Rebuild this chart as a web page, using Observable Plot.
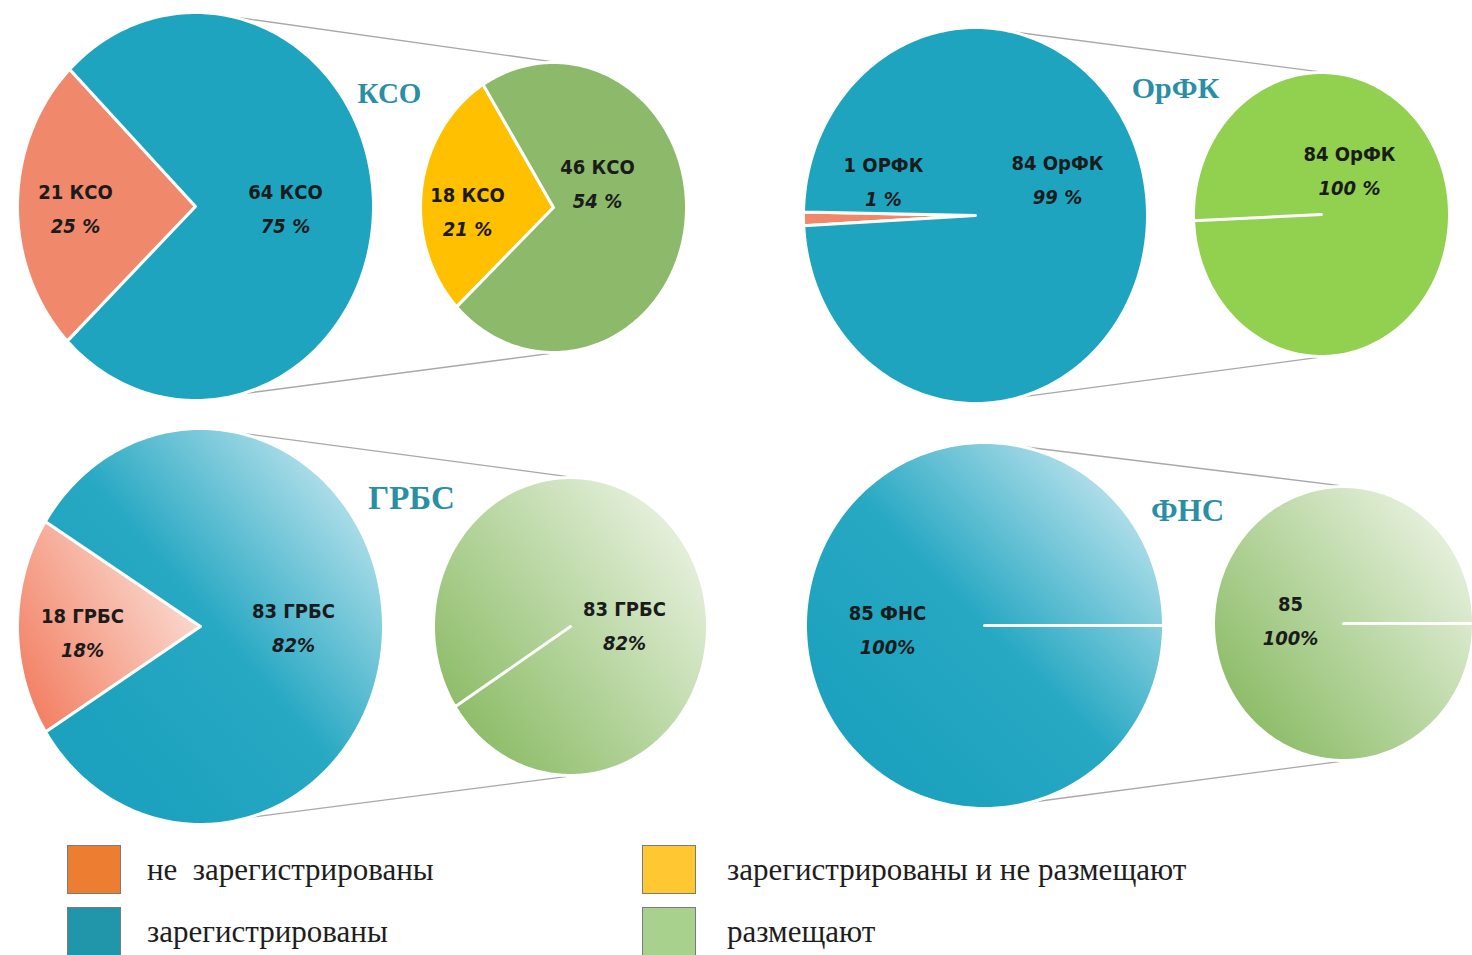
<!DOCTYPE html>
<html><head><meta charset="utf-8">
<script src="https://cdn.jsdelivr.net/npm/d3@7"></script>
<script src="https://cdn.jsdelivr.net/npm/@observablehq/plot@0.6"></script>
<style>
html,body{margin:0;padding:0;background:#fff;overflow:hidden;}
#wrap{width:1472px;height:955px;position:relative;}
#legend{position:relative;width:1472px;height:115px;font-family:"Liberation Serif","Times New Roman",serif;font-size:31px;color:#1e1e1e;}
.sw{position:absolute;width:54px;height:49px;border:1px solid #7a7a7a;box-sizing:border-box;}
.lt{position:absolute;line-height:1;white-space:pre;}
</style></head>
<body><div id="wrap"><div id="chart"></div><div id="legend"></div></div>
<script>
// ---- data ----
const groups = ["КСО", "ОрФК", "ГРБС", "ФНС"];
const notRegistered = [21, 1, 18, 0];
const registered = [64, 84, 83, 85];
const notPosting = [18, 0, 0, 0];
const posting = [46, 84, 83, 85];
const notRegLabel = ["21 КСО", "1 ОРФК", "18 ГРБС", ""];
const notRegPct = ["25 %", "1 %", "18%", ""];
const regLabel = ["64 КСО", "84 ОрФК", "83 ГРБС", "85 ФНС"];
const regPct = ["75 %", "99 %", "82%", "100%"];
const notPostLabel = ["18 КСО", "", "", ""];
const notPostPct = ["21 %", "", "", ""];
const postLabel = ["46 КСО", "84 ОрФК", "83 ГРБС", "85"];
const postPct = ["54 %", "100 %", "82%", "100%"];
const legendLabels = ["не  зарегистрированы", "зарегистрированы", "зарегистрированы и не размещают", "размещают"];
const legendColors = ["#ED7D31", "#2196AB", "#FFC832", "#A9D18E"];

// ---- layout (positions / styles) ----
const W = 1472, H = 840;
const layout = [
  { big:{cx:195,cy:206,rx:178,ry:194,start:135}, small:{cx:553,cy:207,rx:133,ry:145,start:122},
    title:{x:389,y:93,size:29},
    fills:{notReg:"#F0886B", reg:"#1FA4C0", notPost:"#FFC000", post:"#8DBA6A"},
    lab:{notReg:[-120,-14], reg:[90,-14], notPost:[-86,-12], post:[44,-40]} },
  { big:{cx:975,cy:215,rx:172,ry:188,start:178.9}, small:{cx:1321,cy:214,rx:128,ry:142,start:182.5},
    title:{x:1175,y:88,size:30},
    fills:{notReg:"#F0886B", reg:"#1FA4C0", notPost:"#FFC000", post:"#92D050"},
    lab:{notReg:[-92,-50], reg:[82,-52], notPost:[0,0], post:[28,-60]} },
  { big:{cx:200,cy:626,rx:183,ry:198,start:148}, small:{cx:570,cy:626,rx:137,ry:149,start:212.6},
    title:{x:411,y:498,size:33},
    fills:{notReg:"url(#gSalmon)", reg:"url(#gTeal)", notPost:"#FFC000", post:"url(#gGreen)"},
    lab:{notReg:[-118,-10], reg:[93,-15], notPost:[0,0], post:[54,-17]} },
  { big:{cx:984,cy:625,rx:179,ry:183,start:0}, small:{cx:1343,cy:623,rx:130,ry:137,start:0},
    title:{x:1187,y:511,size:31},
    fills:{notReg:"url(#gSalmon)", reg:"url(#gTeal)", notPost:"#FFC000", post:"url(#gGreen)"},
    lab:{notReg:[0,0], reg:[-97,-12], notPost:[0,0], post:[-53,-19]} }
];
const pctDy = 34;
const labelFont = "'Liberation Sans Narrow','DejaVu Sans Condensed','Arial Narrow',sans-serif";

function ellPt(p, deg) {
  const a = deg * Math.PI / 180;
  return {x: p.cx + p.rx * Math.cos(a), y: p.cy - p.ry * Math.sin(a)};
}
function slicePoly(p, a0, a1) {
  const n = Math.max(2, Math.ceil(Math.abs(a1 - a0)));
  const pts = [{x:p.cx, y:p.cy}];
  for (let i = 0; i <= n; i++) pts.push(ellPt(p, a0 + (a1 - a0) * i / n));
  pts.push({x:p.cx, y:p.cy});
  return pts;
}

const marks = [];
const texts = [];
const links = [];
groups.forEach((g, i) => {
  const L = layout[i];
  const pies = [
    {p:L.big, vals:[notRegistered[i], registered[i]], keys:["notReg","reg"], labs:[notRegLabel[i], regLabel[i]], pcts:[notRegPct[i], regPct[i]]},
    {p:L.small, vals:[notPosting[i], posting[i]], keys:["notPost","post"], labs:[notPostLabel[i], postLabel[i]], pcts:[notPostPct[i], postPct[i]]}
  ];
  pies.forEach(pie => {
    const total = d3.sum(pie.vals);
    let a = pie.p.start;
    pie.vals.forEach((v, k) => {
      if (!v) return;
      const span = v / total * 360;
      marks.push(Plot.line(slicePoly(pie.p, a, a + span), {x:"x", y:"y", fill:L.fills[pie.keys[k]], stroke:"white", strokeWidth:3, curve:"linear"}));
      a += span;
      const off = L.lab[pie.keys[k]];
      texts.push({x: pie.p.cx + off[0], y: pie.p.cy + off[1], t: pie.labs[k], kind:"name"});
      texts.push({x: pie.p.cx + off[0], y: pie.p.cy + off[1] + pctDy, t: pie.pcts[k], kind:"pct"});
    });
  });
  // connector lines
  const b1 = ellPt(L.big, 78), s1 = ellPt(L.small, 88);
  const b2 = ellPt(L.big, -75), s2 = ellPt(L.small, -88);
  links.push({x1:b1.x, y1:b1.y, x2:s1.x, y2:s1.y});
  links.push({x1:b2.x, y1:b2.y, x2:s2.x, y2:s2.y});
});

const titles = groups.map((g, i) => ({x: layout[i].title.x, y: layout[i].title.y, t: g, size: layout[i].title.size}));

const chart = Plot.plot({
  width: W, height: H, margin: 0,
  x: {domain: [0, W], range: [0, W], axis: null},
  y: {domain: [0, H], range: [0, H], axis: null},
  style: {background: "white", overflow: "hidden"},
  marks: [
    Plot.link(links, {x1:"x1", y1:"y1", x2:"x2", y2:"y2", stroke:"#A8A8A8", strokeWidth:1.3}),
    ...marks,
    Plot.text(texts.filter(d => d.kind === "name"), {x:"x", y:"y", text:"t", fontFamily:labelFont, fontSize:20, fontWeight:"bold", fill:"#1b1b1b"}),
    Plot.text(texts.filter(d => d.kind === "pct"), {x:"x", y:"y", text:"t", fontFamily:labelFont, fontSize:20, fontWeight:"bold", fontStyle:"italic", fill:"#1b1b1b"}),
    ...titles.map(d => Plot.text([d], {x:"x", y:"y", text:"t", fontFamily:"'Liberation Serif','Times New Roman',serif", fontSize:d.size, fontWeight:"bold", fill:"#2A8FA5"}))
  ]
});

// gradients
const defs = `<defs>
<linearGradient id="gTeal" x1="0.25" y1="0.85" x2="1" y2="0.1">
<stop offset="0" stop-color="#1CA2BE"/><stop offset="0.4" stop-color="#27A8C3"/><stop offset="1" stop-color="#D2ECF3"/></linearGradient>
<linearGradient id="gSalmon" x1="0" y1="0.9" x2="1" y2="0.25">
<stop offset="0" stop-color="#F27A5C"/><stop offset="1" stop-color="#FBE3DB"/></linearGradient>
<linearGradient id="gGreen" x1="0.05" y1="0.9" x2="1" y2="0.1">
<stop offset="0" stop-color="#86B85E"/><stop offset="0.45" stop-color="#B4D49C"/><stop offset="1" stop-color="#F1F6EA"/></linearGradient>
</defs>`;
chart.insertAdjacentHTML("afterbegin", defs);
document.getElementById("chart").appendChild(chart);

// legend
const leg = document.getElementById("legend");
const pos = [[67,5,147,31],[67,67,147,93],[642,5,727,31],[642,67,727,93]];
legendLabels.forEach((lab, i) => {
  const [sx, sy, tx, ty] = pos[i];
  const s = document.createElement("div");
  s.className = "sw"; s.style.left = sx + "px"; s.style.top = sy + "px"; s.style.background = legendColors[i];
  leg.appendChild(s);
  const t = document.createElement("div");
  t.className = "lt"; t.textContent = lab; t.style.left = tx + "px"; t.style.top = (ty - 17) + "px";
  leg.appendChild(t);
});
</script>
</body></html>
